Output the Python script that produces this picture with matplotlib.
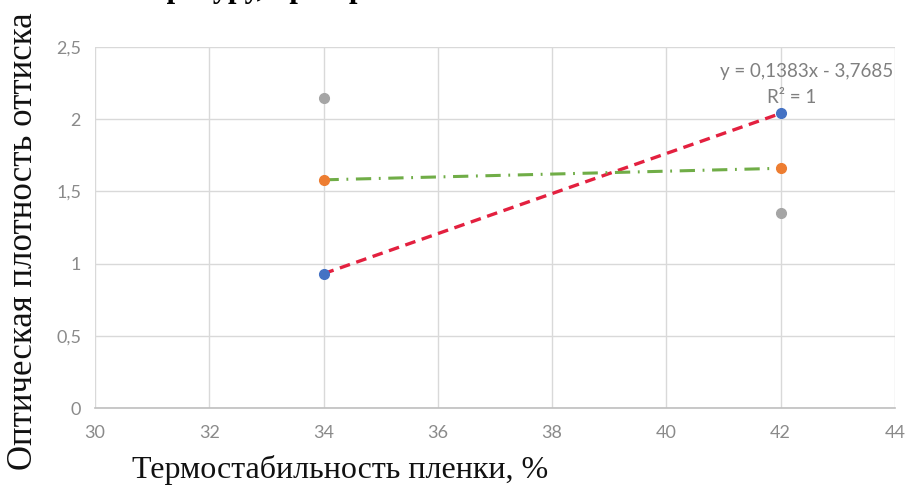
import numpy as np
import matplotlib
matplotlib.use("Agg")
import matplotlib.pyplot as plt

# данные с графика
x_vals = [34, 42]
ser_blue = [0.93, 2.04]
ser_orange = [1.58, 1.66]
ser_gray = [2.15, 1.35]
x_ticks = [30, 32, 34, 36, 38, 40, 42, 44]
y_ticks = [0, 0.5, 1, 1.5, 2, 2.5]
y_tick_labels = ["0", "0,5", "1", "1,5", "2", "2,5"]

fig = plt.figure(figsize=(9.07, 4.93), dpi=100)
ax = fig.add_axes([0.1047, 0.1724, 0.882, 0.7323])

ax.set_xlim(30, 44)
ax.set_ylim(0, 2.5)
ax.set_xticks(x_ticks)
ax.set_yticks(y_ticks)
ax.set_yticklabels(y_tick_labels)
ax.grid(True, color="#d9d9d9", linewidth=1.0)
ax.set_axisbelow(True)
for s in ["top", "right", "left"]:
    ax.spines[s].set_visible(False)
ax.spines["bottom"].set_color("#bfbfbf")
ax.spines["bottom"].set_linewidth(1.2)
ax.tick_params(length=0, colors="#8a8a8a", labelsize=13)
ax.tick_params(axis="x", pad=12)
ax.tick_params(axis="y", pad=10)
for lab in ax.get_xticklabels() + ax.get_yticklabels():
    lab.set_family("Lato")

# линии тренда
xs = np.array(x_vals, dtype=float)
k1, b1 = np.polyfit(xs, ser_blue, 1)
k2, b2 = np.polyfit(xs, ser_orange, 1)
ax.plot(xs, k1 * xs + b1, color="#e3203f", lw=2.4, ls=(0, (3.2, 2.0)), zorder=3)
ax.plot(xs, k2 * xs + b2, color="#70ad47", lw=2.2, ls=(0, (5, 2.5, 0.6, 2.5)), zorder=3)

ax.plot(x_vals, ser_gray, "o", color="#a5a5a5", ms=7, zorder=4)
ax.plot(x_vals, ser_orange, "o", color="#ed7d31", ms=7, zorder=4)
ax.plot(x_vals, ser_blue, "o", color="#4472c4", ms=7, zorder=4)

ax.text(43.97, 2.33, "y = 0,1383x - 3,7685", ha="right", va="center",
        fontsize=13.5, color="#7f7f7f", family="Lato")
ax.text(42.2, 2.15, "R² = 1", ha="center", va="center",
        fontsize=13.5, color="#7f7f7f", family="Lato")

# подписи осей
fig.text(0.026, 0.511, "Оптическая плотность оттиска", rotation=90,
         ha="center", va="center", fontsize=25, family="Liberation Serif", color="#111111")
fig.text(0.146, 0.047, "Термостабильность пленки, %", ha="left", va="center",
         fontsize=23, family="Liberation Serif", color="#111111")

# обрезанный заголовок сверху (видны только нижние выносные элементы)
fig.text(0.054, 1.0 + 3 / 493, "от температуру, при прессовании",
         ha="left", va="baseline", fontsize=22, family="Liberation Serif",
         weight="bold", color="black")

fig.savefig("out.png", dpi=100, facecolor="white")
